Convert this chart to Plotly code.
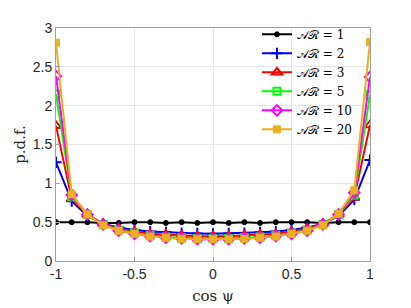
import plotly.graph_objects as go

x_vals = [round(-1 + 0.1 * i, 1) for i in range(21)]

ar1 = [0.50, 0.50, 0.50, 0.49, 0.49, 0.50, 0.50, 0.49, 0.50, 0.49, 0.50,
       0.49, 0.50, 0.49, 0.50, 0.50, 0.50, 0.49, 0.50, 0.50, 0.50]
ar2 = [1.27, 0.77, 0.58, 0.48, 0.43, 0.40, 0.38, 0.37, 0.36, 0.355, 0.35,
       0.355, 0.36, 0.37, 0.38, 0.40, 0.43, 0.48, 0.58, 0.79, 1.30]
ar3 = [1.74, 0.80, 0.60, 0.48, 0.42, 0.38, 0.35, 0.34, 0.33, 0.32, 0.32,
       0.32, 0.33, 0.34, 0.35, 0.38, 0.42, 0.48, 0.60, 0.82, 1.75]
ar5 = [2.15, 0.83, 0.60, 0.47, 0.40, 0.36, 0.33, 0.31, 0.30, 0.29, 0.29,
       0.29, 0.30, 0.31, 0.33, 0.36, 0.40, 0.47, 0.60, 0.85, 2.14]
ar10 = [2.38, 0.85, 0.60, 0.47, 0.39, 0.35, 0.32, 0.30, 0.29, 0.28, 0.28,
        0.28, 0.29, 0.30, 0.32, 0.35, 0.39, 0.47, 0.60, 0.88, 2.37]
ar20 = [2.81, 0.86, 0.60, 0.46, 0.39, 0.35, 0.315, 0.30, 0.285, 0.28, 0.28,
        0.28, 0.285, 0.30, 0.315, 0.35, 0.39, 0.46, 0.61, 0.91, 2.82]

labels = ["𝒜ℛ = 1", "𝒜ℛ = 2", "𝒜ℛ = 3", "𝒜ℛ = 5", "𝒜ℛ = 10", "𝒜ℛ = 20"]
x_ticks = [-1, -0.5, 0, 0.5, 1]
y_ticks = [0, 0.5, 1, 1.5, 2, 2.5, 3]

series = [ar1, ar2, ar3, ar5, ar10, ar20]
styles = [
    dict(color="#000000", symbol="circle", size=5, lw=1),
    dict(color="#0000ff", symbol="cross-thin-open", size=8, lw=2),
    dict(color="#ff0000", symbol="triangle-up-open", size=9, lw=2),
    dict(color="#00ff00", symbol="square-open", size=7, lw=2),
    dict(color="#ff00ff", symbol="diamond-open", size=8, lw=2),
    dict(color="#EDB120", symbol="square", size=7, lw=1),
]

fig = go.Figure()
for ys, lab, st in zip(series, labels, styles):
    fig.add_trace(go.Scatter(
        x=x_vals, y=ys, name=lab, mode="lines+markers",
        line=dict(color=st["color"], width=2),
        marker=dict(symbol=st["symbol"], size=st["size"], color=st["color"],
                    line=dict(color=st["color"], width=st["lw"])),
    ))

axis_common = dict(
    showline=True, linecolor="#a0a0a0", linewidth=1, mirror=True,
    ticks="inside", ticklen=4, tickcolor="#a0a0a0",
    showgrid=True, gridcolor="#e6e6e6", gridwidth=1,
    zeroline=False,
    tickfont=dict(family="Liberation Sans", size=14, color="#262626"),
    title_font=dict(family="DejaVu Serif", size=15, color="#262626"),
)

fig.update_xaxes(range=[-1, 1], tickvals=x_ticks, ticktext=[str(v) for v in x_ticks],
                 title_text="cos ψ", title_standoff=9, **axis_common)
fig.update_yaxes(range=[0, 3], tickvals=y_ticks, ticktext=[str(v) for v in y_ticks],
                 title_text="p.d.f.", title_standoff=3, **axis_common)

fig.update_layout(
    width=411, height=308,
    margin=dict(l=48, r=49, t=15, b=55),
    plot_bgcolor="white", paper_bgcolor="white",
    legend=dict(x=0.64, y=1.035, xanchor="left", yanchor="top",
                bgcolor="rgba(0,0,0,0)", borderwidth=0,
                font=dict(family="DejaVu Serif", size=12, color="#000000"),
                itemwidth=30, tracegroupgap=0),
    showlegend=True,
)

fig.write_html("out.html")
